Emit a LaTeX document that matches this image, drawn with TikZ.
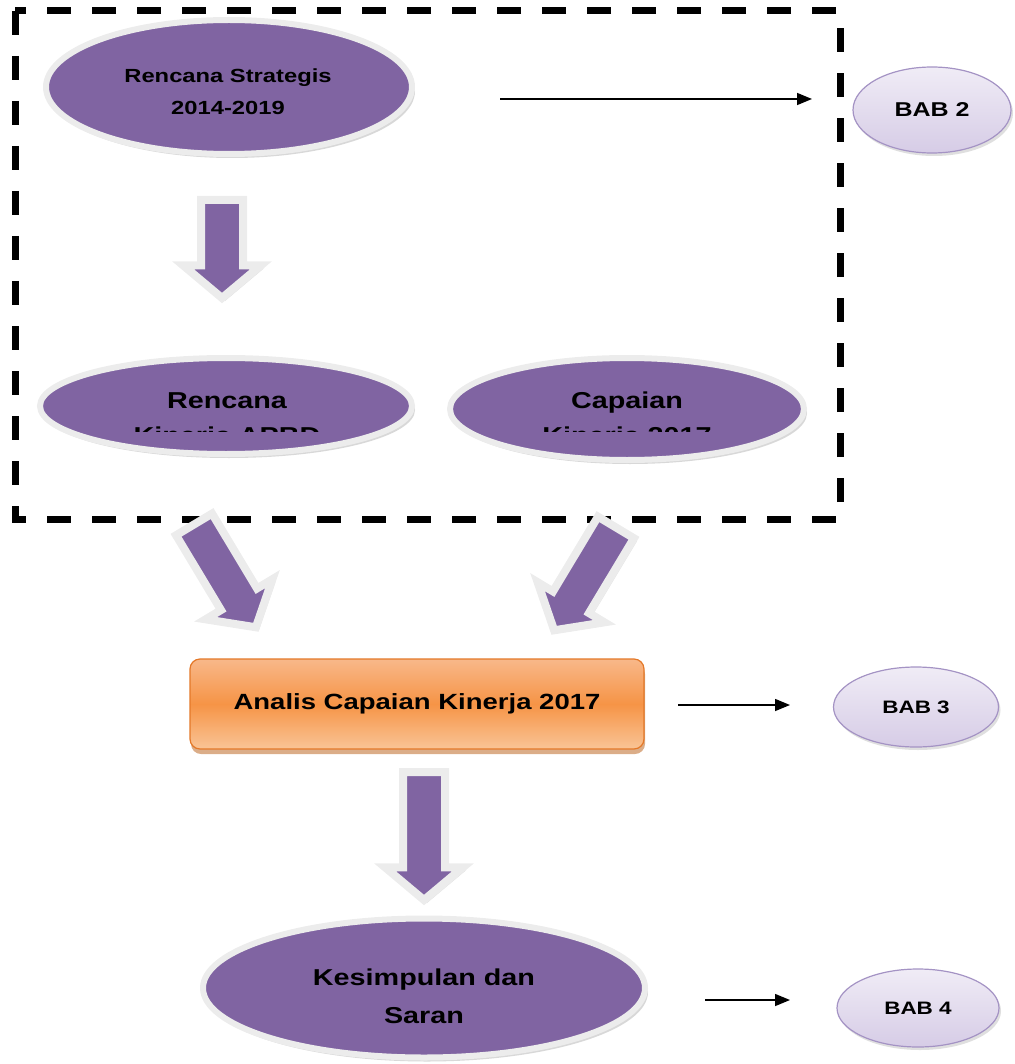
\documentclass[tikz,border=0pt]{standalone}
\usepackage{fontspec}
\newfontfamily\diagfont{Liberation Sans}[FakeStretch=1.25]
\usetikzlibrary{shapes.geometric, shapes.arrows, arrows.meta, shadows, positioning}
\definecolor{ungu}{RGB}{128,100,162}
\definecolor{rim}{RGB}{236,236,236}
\definecolor{babrim}{RGB}{164,147,196}
\definecolor{babtop}{RGB}{240,236,246}
\definecolor{babbot}{RGB}{214,204,230}
\definecolor{ortop}{RGB}{248,184,138}
\definecolor{ormid}{RGB}{246,148,70}
\definecolor{orbot}{RGB}{249,196,150}
\definecolor{orline}{RGB}{228,120,40}
\definecolor{orshadow}{RGB}{184,92,18}

\begin{document}
\begin{tikzpicture}[
    x=1pt, y=-1pt,
    oval/.style={ellipse, fill=ungu, draw=rim, line width=6pt, inner sep=0pt,
        drop shadow={shadow xshift=3pt, shadow yshift=-4pt, fill=black!30}},
    babnode/.style={ellipse, draw=babrim, line width=1.2pt, top color=babtop, bottom color=babbot,
        inner sep=0pt, drop shadow={shadow xshift=2pt, shadow yshift=-3pt, fill=black!25}},
    fat/.style={single arrow, fill=ungu, draw=rim, line width=8pt, inner xsep=0pt, inner ysep=17pt,
        single arrow head extend=18pt, single arrow tip angle=100, anchor=tail,
        drop shadow={shadow xshift=3pt, shadow yshift=-3pt, fill=black!25}},
    sidearrow/.style={-{Triangle[length=15pt,width=12pt]}, line width=1.5pt},
    dashbox/.style={dash pattern=on 24pt off 21pt, line width=7pt},
    txt/.style={font=\diagfont\bfseries, align=center, inner sep=0pt}
]
% Dashed frame
\draw[dashbox] (15,11) rectangle (840,519);

% Renstra
\node[oval, minimum width=366pt, minimum height=134pt] (renstra) at (229,87) {};
\node[txt, font=\diagfont\bfseries\fontsize{19}{32}\selectfont] (renstraText) at (228,92) {Rencana Strategis\\2014-2019};
\node[fat, rotate=-90, minimum height=98pt] (d1) at (222,196) {};

% Rencana Kinerja & Capaian
\node[oval, minimum width=372pt, minimum height=96pt] (rka) at (226,406) {};
\node[oval, minimum width=354pt, minimum height=102pt] (cka) at (627,409) {};
\node[txt, font=\diagfont\bfseries\fontsize{23}{28}\selectfont, anchor=base] (rkaText) at (227,408) {Rencana};
\node[txt, font=\diagfont\bfseries\fontsize{23}{28}\selectfont, anchor=base] (ckaText) at (627,408) {Capaian};
\begin{scope}
\clip (60,415) rectangle (790,431);
\node[txt, font=\diagfont\bfseries\fontsize{23}{28}\selectfont, anchor=base] (rkaLine) at (227,443) {Kinerja APBD};
\node[txt, font=\diagfont\bfseries\fontsize{23}{28}\selectfont, anchor=base] (ckaLine) at (627,443) {Kinerja 2017};
\end{scope}

% Diagonal arrows
\node[fat, rotate=-59, minimum height=120pt] (dl) at (192,521) {};
\node[fat, rotate=-121, minimum height=120pt] (dr) at (618,524) {};

% Analisis
\node[rectangle, rounded corners=10pt, draw=orline, line width=1.2pt,
    top color=ortop, bottom color=orbot, middle color=ormid,
    minimum width=454pt, minimum height=90pt,
    drop shadow={shadow xshift=1pt, shadow yshift=-5pt, fill=orshadow},
    txt, font=\diagfont\bfseries\fontsize{22}{26}\selectfont] (analis) at (417,704) {Analis Capaian Kinerja 2017};
\node[fat, rotate=-90, minimum height=128pt] (d2) at (424,768) {};

% Kesimpulan
\node[oval, minimum width=442pt, minimum height=139pt] (simpul) at (424,988) {};
\node[txt, font=\diagfont\bfseries\fontsize{23}{38}\selectfont] (simpulText) at (424,996) {Kesimpulan dan\\Saran};

% BAB
\node[babnode, minimum width=158pt, minimum height=86pt, txt, font=\diagfont\bfseries\fontsize{20}{24}\selectfont] (bab2) at (932,110) {BAB 2};
\node[babnode, minimum width=165pt, minimum height=80pt, txt, font=\diagfont\bfseries\fontsize{18}{22}\selectfont] (bab3) at (916,707) {BAB 3};
\node[babnode, minimum width=162pt, minimum height=78pt, txt, font=\diagfont\bfseries\fontsize{18}{22}\selectfont] (bab4) at (918,1008) {BAB 4};

% Side arrows
\coordinate (s2) at (500,99);
\coordinate (e2) at (812,99);
\coordinate (s3) at (678,705);
\coordinate (e3) at (790,705);
\coordinate (s4) at (705,1000);
\coordinate (e4) at (790,1000);
\draw[sidearrow] (s2) -- (e2);
\draw[sidearrow] (s3) -- (e3);
\draw[sidearrow] (s4) -- (e4);

\useasboundingbox (0,0) rectangle (1014,1064);
\end{tikzpicture}
\end{document}
